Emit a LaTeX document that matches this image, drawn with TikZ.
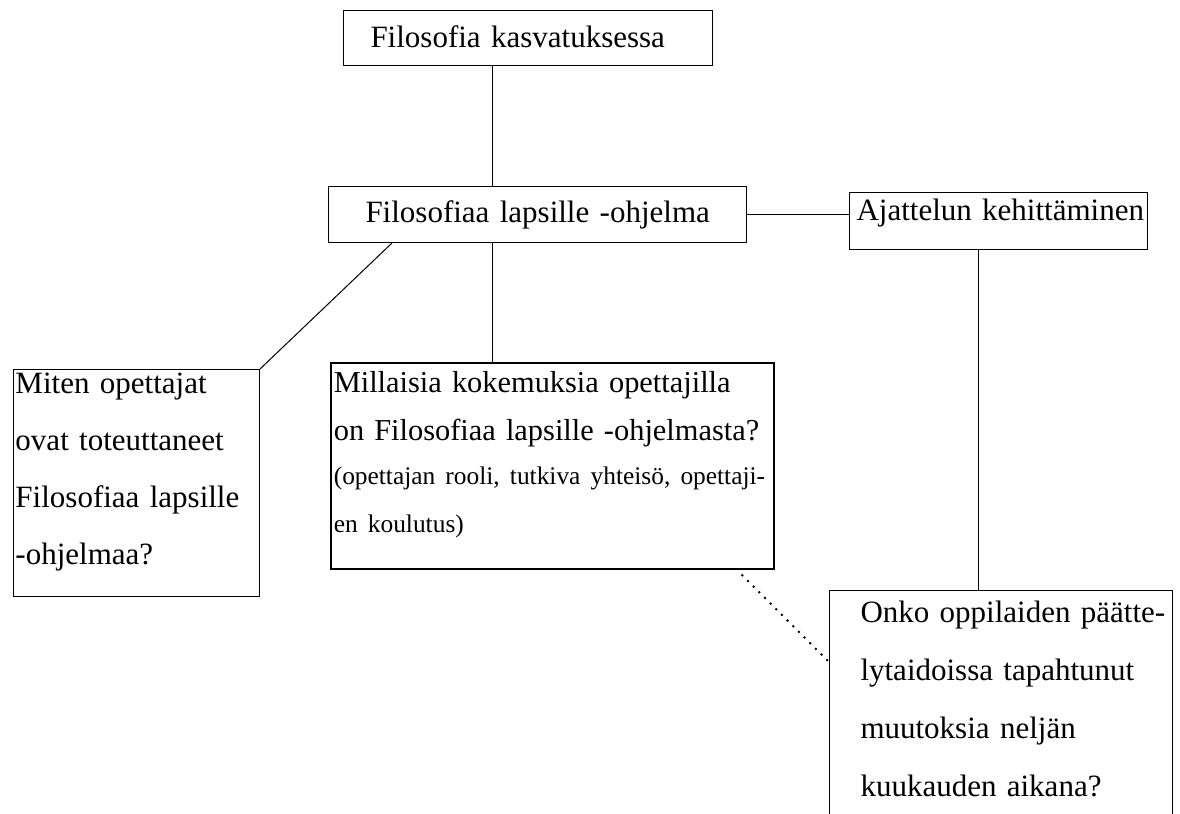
\documentclass[tikz,border=0pt]{standalone}
\usepackage{fontspec}
\setmainfont{Liberation Serif}
\usepackage{tikz}

\tikzset{hop/.style={draw,line width=0.5pt,anchor=north west,inner sep=0pt,align=left,
		font=\fontsize{15.5}{28.5}\selectfont}}

\begin{document}
\begin{tikzpicture}[x=0.5pt,y=-0.5pt,line width=0.5pt]
			\useasboundingbox (0,0) rectangle (1180,814);
			% Vẽ các ô
			\node[hop,text width=184.5pt,text height=18.5pt,text depth=9pt] (kasvatus) at (343,10)
			{\hspace*{13.5pt}Filosofia kasvatuksessa};
			\node[hop,text width=209pt,text height=18pt,text depth=10pt] (lapsille) at (328,186)
			{\hspace*{18.5pt}Filosofiaa lapsille -ohjelma};
			\node[hop,text width=149pt,text height=14pt,text depth=14.5pt] (ajattelu) at (849,192)
			{\hspace*{3.5pt}\mbox{Ajattelun kehittäminen}};
			\node[hop,text width=123pt,text height=12pt,text depth=101.5pt] (toteutus) at (13,369)
			{\hspace*{1pt}Miten opettajat\\\hspace*{1pt}ovat toteuttaneet\\
			\hspace*{1pt}Filosofiaa lapsille\\\hspace*{1pt}-ohjelmaa?};
			\node[hop,line width=0.8pt,text width=221.5pt,text height=15pt,text depth=88pt,
			font=\fontsize{15.2}{24}\selectfont] (kokemus) at (330,362)
			{\hspace*{1.5pt}\mbox{Millaisia kokemuksia opettajilla}\\\hspace*{1.5pt}\mbox{on Filosofiaa lapsille -ohjelmasta?}\par
			\fontsize{12.7}{22}\selectfont\hspace*{1.5pt}\mbox{(opettajan rooli, tutkiva yhteisö, opettaji-}\\\hspace*{1.5pt}\mbox{en koulutus)}};
			\node[hop,text width=171.5pt,text height=16pt,text depth=104pt,
			font=\fontsize{15.5}{29}\selectfont] (muutos) at (829,590)
			{\hspace*{15.5pt}Onko oppilaiden päätte-\\\hspace*{15.5pt}lytaidoissa tapahtunut\\
			\hspace*{15.5pt}muutoksia neljän\\\hspace*{15.5pt}kuukauden aikana?};
			% Vẽ đường nối
			\coordinate (truc) at (492,0);
			\coordinate (phai) at (978,0);
			\draw (kasvatus.south -| truc) -- (lapsille.north -| truc);
			\draw (lapsille.south -| truc) -- (kokemus.north -| truc);
			\draw (lapsille.east) -- (lapsille.east -| ajattelu.west);
			\draw ([xshift=32pt]lapsille.south west) -- (toteutus.north east);
			\draw (ajattelu.south -| phai) -- (muutos.north -| phai);
			\draw [line width=1pt,dash pattern=on 1pt off 3pt] ([xshift=-16.5pt,yshift=-2.5pt]kokemus.south east) -- ([yshift=-36pt]muutos.north west);
			\end{tikzpicture}
\end{document}
